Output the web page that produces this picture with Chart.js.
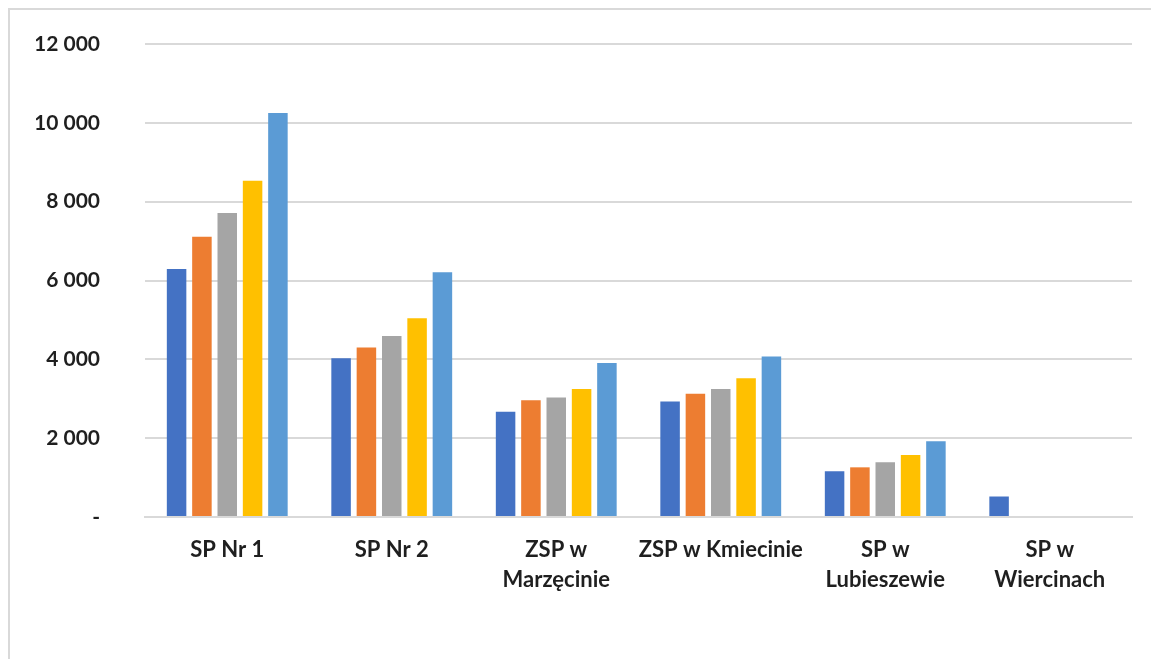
<!DOCTYPE html>
<html>
<head>
<meta charset="utf-8">
<script src="https://cdn.jsdelivr.net/npm/chart.js@4.4.0/dist/chart.umd.min.js"></script>
<style>
    html, body { margin: 0; padding: 0; background: #ffffff; overflow: hidden; width: 1151px; height: 659px; }
    #frame {
        position: absolute;
        left: 8px;
        top: 8px;
        right: -20px;
        bottom: -20px;
        border: 2px solid #d9d9d9;
    }
    #wrap { position: absolute; left: 0; top: 0; width: 1151px; height: 659px; }
</style>
</head>
<body>
<div id="frame"></div>
<div id="wrap"><canvas id="schoolChart" width="1151" height="659"></canvas></div>
<script>
// Categories (schools)
const categories = [
    'SP Nr 1',
    'SP Nr 2',
    ['ZSP w', 'Marzęcinie'],
    'ZSP w Kmiecinie',
    ['SP w', 'Lubieszewie'],
    ['SP w', 'Wiercinach']
];

// Series values
const series1 = [6290, 4030, 2670, 2930, 1160, 520];
const series2 = [7110, 4300, 2960, 3130, 1260, null];
const series3 = [7710, 4590, 3030, 3250, 1390, null];
const series4 = [8530, 5040, 3250, 3520, 1570, null];
const series5 = [10250, 6210, 3910, 4070, 1920, null];

const seriesNames = ['Seria 1', 'Seria 2', 'Seria 3', 'Seria 4', 'Seria 5'];
const seriesColors = ['#4472C4', '#ED7D31', '#A5A5A5', '#FFC000', '#5B9BD5'];

// Y axis range
const yMin = 0;
const yMax = 12000;
const yStep = 2000;

const textColor = '#1f1f1f';
const gridColor = '#d9d9d9';
const fontFamily = 'Lato, "Open Sans", sans-serif';

/**
 * Format tick like Excel: "12 000", zero as "-"
 */
function formatTick(value) {
    if (value === 0) return '-';
    return String(value).replace(/\B(?=(\d{3})+(?!\d))/g, ' ');
}

const allSeries = [series1, series2, series3, series4, series5];

const ctx = document.getElementById('schoolChart').getContext('2d');

new Chart(ctx, {
    type: 'bar',
    data: {
        labels: categories,
        datasets: allSeries.map((values, i) => ({
            label: seriesNames[i],
            data: values,
            backgroundColor: seriesColors[i],
            borderWidth: 0,
            categoryPercentage: 0.77,
            barPercentage: 0.77
        }))
    },
    options: {
        responsive: false,
        animation: false,
        layout: {
            padding: { left: 36, right: 19, top: 44, bottom: 42 }
        },
        plugins: {
            legend: { display: false },
            tooltip: { enabled: false }
        },
        scales: {
            x: {
                grid: { display: false, drawTicks: false },
                border: { display: true, color: gridColor, width: 2 },
                ticks: {
                    color: textColor,
                    padding: 18,
                    maxRotation: 0,
                    autoSkip: false,
                    font: { family: fontFamily, size: 22, weight: 'bold', lineHeight: 1.36 }
                },
                afterFit: function(scale) {
                    scale.height = 100;
                }
            },
            y: {
                min: yMin,
                max: yMax,
                grid: {
                    color: gridColor,
                    lineWidth: 2,
                    drawTicks: true,
                    tickLength: 14,
                    tickColor: 'rgba(0,0,0,0)'
                },
                border: { display: false },
                ticks: {
                    stepSize: yStep,
                    color: textColor,
                    padding: 31,
                    font: { family: fontFamily, size: 21, weight: 'bold' },
                    callback: function(value) {
                        return formatTick(value);
                    }
                },
                afterFit: function(scale) {
                    scale.width = 109;
                }
            }
        }
    }
});
</script>
</body>
</html>
